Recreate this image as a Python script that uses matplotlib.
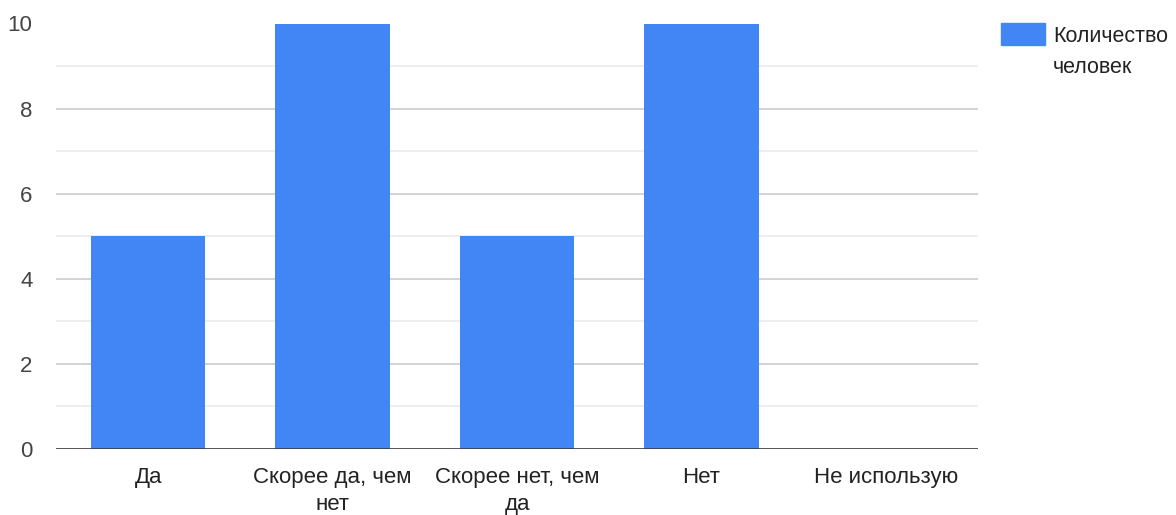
import matplotlib
matplotlib.use("Agg")
import matplotlib.pyplot as plt
from matplotlib.patches import Rectangle
from matplotlib.ticker import MultipleLocator

plt.rcParams['font.family'] = ['Liberation Sans', 'DejaVu Sans']

# data
categories = ["Да", "Скорее да, чем\nнет", "Скорее нет, чем\nда", "Нет", "Не использую"]
counts = [5, 10, 5, 10, 0]
series_name = "Количество\nчеловек"

bar_color = "#4285f4"
W, H = 1176, 515

fig = plt.figure(figsize=(W / 100, H / 100), dpi=100)
ax = fig.add_axes([56 / W, 66 / H, (978 - 56) / W, (449 - 23.5) / H])

x = range(len(categories))
ax.bar(x, counts, width=0.62, color=bar_color, label=series_name, zorder=3)

ax.set_xlim(-0.5, len(categories) - 0.5)
ax.set_ylim(0, 10)
ax.yaxis.set_major_locator(MultipleLocator(2))
ax.yaxis.set_minor_locator(MultipleLocator(1))

# gridlines
ax.grid(axis="y", which="major", color="#cccccc", linewidth=1.2, zorder=0)
ax.grid(axis="y", which="minor", color="#ebebeb", linewidth=1.2, zorder=0)
ax.axhline(0, color="#333333", linewidth=1.8, zorder=4)

for s in ax.spines.values():
    s.set_visible(False)

ax.set_xticks(list(x))
ax.set_xticklabels(categories, linespacing=1.4)
ax.tick_params(axis="x", length=0, pad=13, labelsize=16, labelcolor="#222222")
ax.tick_params(axis="y", which="both", length=0, pad=17, labelsize=16, labelcolor="#444444")

# legend (top right, square next to first line of the label)
fig.patches.append(Rectangle((1001 / W, 1 - 45 / H), 44 / W, 22 / H,
                             transform=fig.transFigure, color=bar_color))
fig.text(1053 / W, 1 - 26 / H, series_name, ha="left", va="top",
         fontsize=15.5, color="#222222", linespacing=1.6)

fig.savefig("out.png", dpi=100)
